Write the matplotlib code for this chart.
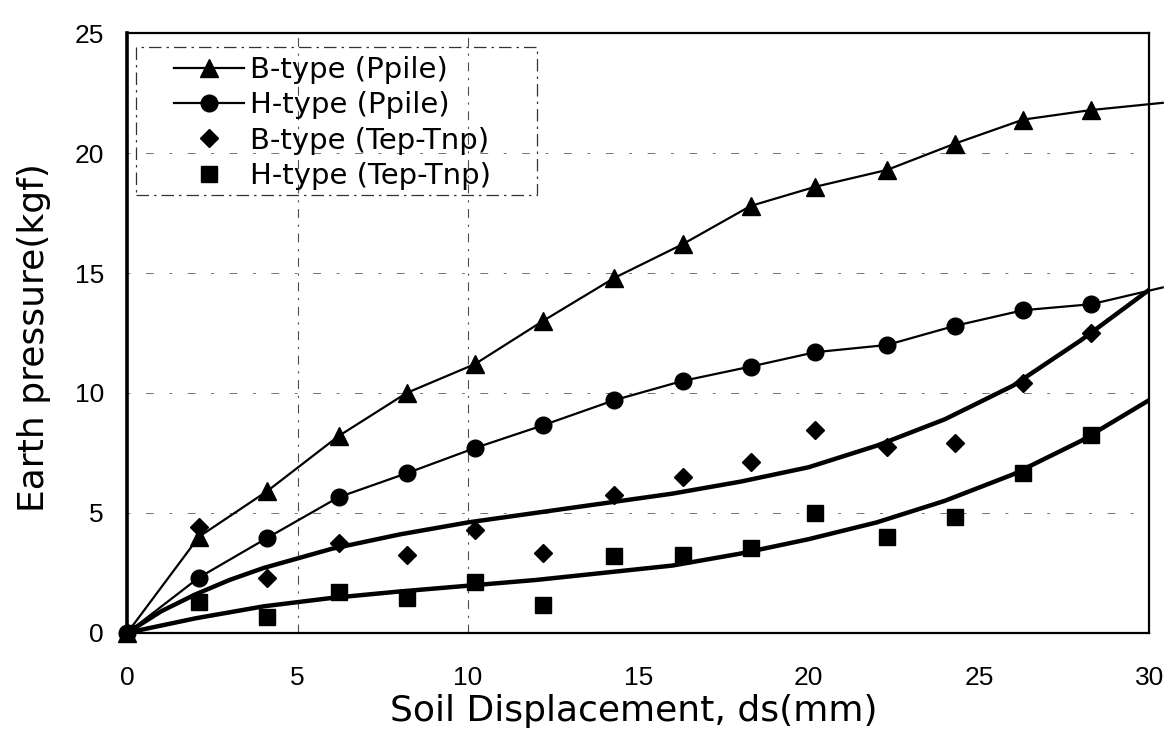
import matplotlib
matplotlib.use('Agg')
import matplotlib.pyplot as plt
from matplotlib.patches import Rectangle

# measured Ppile values (last point is where the drawn line runs out past the axis)
x_pile = [0, 2.1, 4.1, 6.2, 8.2, 10.2, 12.2, 14.3, 16.3, 18.3, 20.2, 22.3, 24.3, 26.3, 28.3, 30.4]
b_pile = [0, 4.0, 5.9, 8.2, 10.0, 11.2, 13.0, 14.8, 16.2, 17.8, 18.6, 19.3, 20.4, 21.4, 21.8, 22.1]
h_pile = [0, 2.3, 3.95, 5.65, 6.65, 7.7, 8.65, 9.7, 10.5, 11.1, 11.7, 12.0, 12.8, 13.45, 13.7, 14.4]

# Tep-Tnp scatter points
x_tep = [0, 2.1, 4.1, 6.2, 8.2, 10.2, 12.2, 14.3, 16.3, 18.3, 20.2, 22.3, 24.3, 26.3, 28.3]
b_tep = [0, 4.4, 2.3, 3.75, 3.25, 4.3, 3.33, 5.75, 6.5, 7.1, 8.46, 7.76, 7.9, 10.4, 12.5]
h_tep = [0, 1.3, 0.67, 1.7, 1.45, 2.1, 1.17, 3.18, 3.25, 3.54, 5.0, 4.0, 4.83, 6.67, 8.25]

# trend curves through the Tep-Tnp points
x_fit = [0, 1, 2, 3, 4, 6, 8, 10, 12, 14, 16, 18, 20, 22, 24, 26, 28, 30]
b_fit = [0, 0.9, 1.6, 2.2, 2.7, 3.5, 4.1, 4.6, 5.0, 5.4, 5.8, 6.3, 6.9, 7.8, 8.9, 10.3, 12.2, 14.3]
h_fit = [0, 0.3, 0.6, 0.85, 1.1, 1.45, 1.72, 1.96, 2.2, 2.5, 2.8, 3.3, 3.9, 4.6, 5.5, 6.6, 8.0, 9.7]

labels = ['B-type (Ppile)', 'H-type (Ppile)', 'B-type (Tep-Tnp)', 'H-type (Tep-Tnp)']
grid_x = [5, 10]

fig = plt.figure(figsize=(11.69, 7.40), dpi=100)
ax = fig.add_axes([0.109, 0.145, 0.874, 0.81])

n = len(x_tep)
ax.plot(x_pile, b_pile, color='black', lw=1.6, marker='^', ms=13,
        markevery=slice(0, n), clip_on=False, zorder=3, label=labels[0])
ax.plot(x_pile, h_pile, color='black', lw=1.6, marker='o', ms=12,
        markevery=slice(0, n), clip_on=False, zorder=3, label=labels[1])
ax.plot(x_fit, b_fit, color='black', lw=3.2, zorder=2)
ax.plot(x_fit, h_fit, color='black', lw=3.2, zorder=2)
ax.plot(x_tep, b_tep, ls='none', color='black', marker='D', ms=9.5, zorder=4, label=labels[2])
ax.plot(x_tep, h_tep, ls='none', color='black', marker='s', ms=11.5, zorder=5, label=labels[3])

ax.set_xlim(0, 30)
ax.set_ylim(0, 25)
ax.set_xticks(range(0, 31, 5))
ax.set_yticks(range(0, 26, 5))

# sparse dashed grid like the scan
ax.grid(axis='y', color='0.45', lw=0.7, ls=(0, (3, 16, 8, 16)))
for gx in grid_x:
    ax.axvline(gx, color='0.3', lw=0.8, ls=(0, (8, 6, 2, 6)), zorder=0)

for s in ax.spines.values():
    s.set_linewidth(1.6)
ax.spines['left'].set_linewidth(2.6)

ax.tick_params(length=0, labelsize=19)
ax.tick_params(axis='x', pad=24)
ax.tick_params(axis='y', pad=17)
for t in ax.get_xticklabels() + ax.get_yticklabels():
    t.set_fontfamily('Liberation Sans')

ax.set_xlabel('Soil Displacement, ds(mm)', fontsize=26, family='DejaVu Sans')
ax.set_ylabel('Earth pressure(kgf)', fontsize=26, family='DejaVu Sans')
ax.xaxis.set_label_coords(0.496, -0.103)
ax.yaxis.set_label_coords(-0.075, 0.493)

# legend without frame plus a dashed box drawn around it
leg = ax.legend(loc='upper left', bbox_to_anchor=(0.046, 0.962), frameon=False,
                prop={'family': 'DejaVu Sans', 'size': 21}, handlelength=2.4,
                handletextpad=0.2, labelspacing=0.25, borderpad=0, borderaxespad=0)
ax.add_patch(Rectangle((0.008, 0.73), 0.393, 0.247, transform=ax.transAxes,
                       fill=False, ec='0.2', lw=0.9, ls=(0, (10, 4, 2, 4)), zorder=1))

fig.savefig('out.png', dpi=100, facecolor='white')
